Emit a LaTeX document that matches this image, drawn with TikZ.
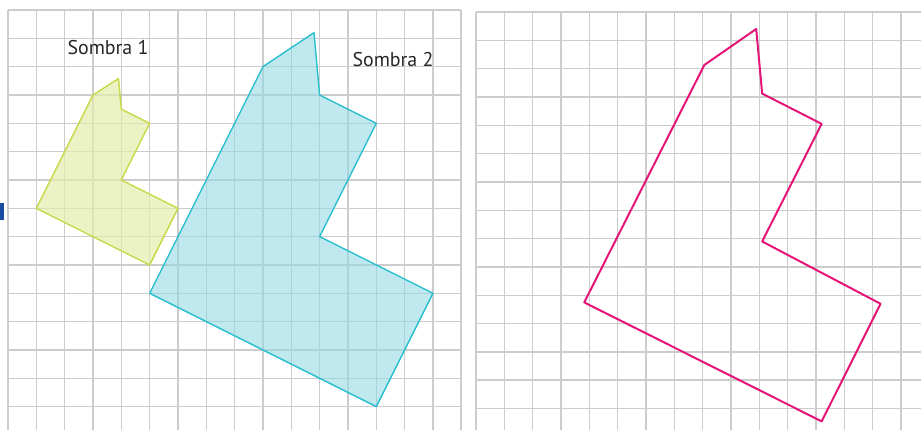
\documentclass[tikz,border=0pt]{standalone}
\usepackage{fontspec}
\setsansfont{PT Sans}
\usepackage{tikz}
\usetikzlibrary{positioning,calc}

\definecolor{gridgray}{RGB}{204,204,204}
\definecolor{limeline}{RGB}{200,216,70}
\definecolor{limefill}{RGB}{226,236,170}
\definecolor{cyanline}{RGB}{40,190,205}
\definecolor{cyanfill}{RGB}{150,218,228}
\definecolor{magline}{RGB}{230,20,120}
\definecolor{tabblue}{RGB}{25,75,160}

\begin{document}
\begin{tikzpicture}[x=0.5cm,y=-0.5cm,
    gridline/.style={gridgray,line width=0.8pt},
    shadowone/.style={draw=limeline,fill=limefill,fill opacity=0.7,line width=0.7pt,line join=round},
    shadowtwo/.style={draw=cyanline,fill=cyanfill,fill opacity=0.6,line width=0.7pt,line join=round},
    copyline/.style={draw=magline,line width=1pt,line join=round},
    label/.style={font=\sffamily\normalsize,text=black!85}]
        \useasboundingbox (-0.2824,-0.353) rectangle (32.227,14.826);

        % left grid
        \foreach \i in {0,...,16} \draw[gridline] (\i,0) -- (\i,14.826);
        \foreach \j in {0,...,14} \draw[gridline] (0,\j) -- (16,\j);

        % right grid
        \begin{scope}[shift={(16.52,0.07)}]
            \foreach \i in {0,...,15} \draw[gridline] (\i,0) -- (\i,14.76);
            \foreach \j in {0,...,14} \draw[gridline] (0,\j) -- (15.71,\j);
        \end{scope}

        % small tab at left edge
        \fill[tabblue] (-0.2824,6.81) rectangle (-0.14,7.41);

        % the two shadows
        \draw[shadowone] (1,7) -- (3,3) -- (3.9,2.42) -- (4,3.5) -- (5,4) -- (4,6) -- (6,7) -- (5,9) -- cycle;
        \draw[shadowtwo] (5,10) -- (9,2) -- (10.8,0.8) -- (11,3) -- (13,4) -- (11,8) -- (15,10) -- (13,14) -- cycle;

        \node[label] (sombraA) at (3.53,1.34) {Sombra 1};
        \node[label] (sombraB) at (13.59,1.76) {Sombra 2};

        % copy on the right grid
        \begin{scope}[shift={(16.52,0.07)}]
            \draw[copyline] (3.82,10.25) -- (8.06,1.87) -- (9.89,0.6) -- (10.1,2.88) -- (12.2,3.95) -- (10.1,8.1) -- (14.28,10.3) -- (12.2,14.45) -- cycle;
        \end{scope}
\end{tikzpicture}
\end{document}
